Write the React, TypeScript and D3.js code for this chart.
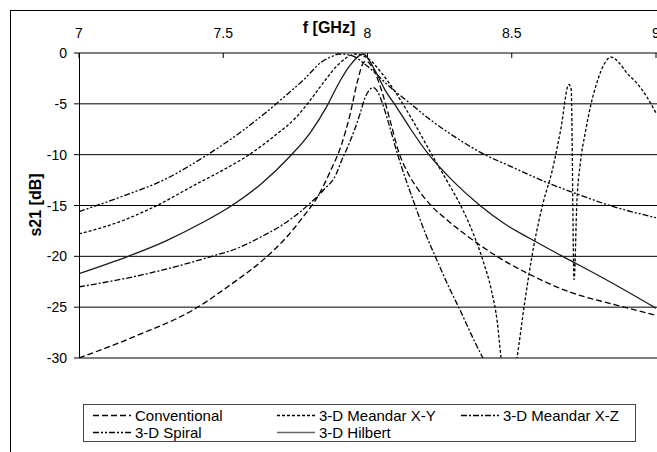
import React from 'react';
import * as d3 from 'd3';

// axis ticks
const xTicks = [7, 7.5, 8, 8.5, 9];
const yTicks = [0, -5, -10, -15, -20, -25, -30];

// series (frequency in GHz, s21 in dB)
const conventionalF = [7.0, 7.2, 7.4, 7.52, 7.64, 7.72, 7.78, 7.83, 7.87, 7.91, 7.94, 7.965, 7.985, 7.995, 8.02, 8.05, 8.078, 8.109, 8.14, 8.17, 8.22, 8.275, 8.38, 8.46, 8.55, 8.7, 8.85, 9.0];
const conventionalDb = [-30, -27.8, -25.2, -22.9, -20.3, -18.1, -16.0, -14.0, -11.7, -9.0, -6.0, -2.8, -1.0, -0.8, -1.6, -3.8, -6.6, -9.8, -11.8, -13.2, -15.0, -16.4, -18.7, -20.2, -21.6, -23.5, -24.7, -25.8];

const meanderXYF = [7.0, 7.15, 7.27, 7.4, 7.5, 7.59, 7.68, 7.75, 7.8, 7.85, 7.9, 7.96, 8.0, 8.05, 8.1, 8.16, 8.227, 8.28, 8.33, 8.37, 8.4, 8.43, 8.45, 8.463, 8.49, 8.518, 8.545, 8.575, 8.61, 8.64, 8.67, 8.698, 8.706, 8.716, 8.726, 8.737, 8.755, 8.775, 8.8, 8.82, 8.845, 8.87, 8.9, 8.935, 8.97, 9.0];
const meanderXYDb = [-17.8, -16.5, -15.0, -13.0, -11.5, -10.0, -8.1, -6.4, -4.7, -2.8, -1.1, -0.1, -0.5, -2.0, -4.0, -6.8, -10.2, -12.8, -15.4, -18.0, -20.4, -23.4, -26.5, -30, -34, -30, -24.5, -19.2, -14.6, -11.6, -7.5, -3.1, -3.6, -22.3, -14.5, -11.0, -7.8, -5.0, -2.5, -1.1, -0.4, -0.9, -2.0, -3.0, -4.4, -5.9];

const meanderXZF = [7.0, 7.19, 7.35, 7.46, 7.55, 7.63, 7.7, 7.75, 7.8, 7.85, 7.89, 7.91, 7.935, 7.957, 7.975, 7.99, 8.005, 8.02, 8.035, 8.05, 8.07, 8.11, 8.161, 8.2, 8.241, 8.28, 8.321, 8.36, 8.4, 8.44];
const meanderXZDb = [-23, -22, -20.9, -20, -19.2, -18.1, -17.0, -16.0, -14.8, -13.4, -12.0, -10.6, -9.0, -7.4, -5.9, -4.5, -3.7, -3.4, -3.8, -4.8, -6.6, -10.5, -14.7, -17.7, -20.4, -22.9, -25.3, -27.7, -30, -32];

const spiralF = [7.0, 7.15, 7.3, 7.44, 7.55, 7.65, 7.72, 7.78, 7.84, 7.88, 7.9, 7.94, 8.0, 8.08, 8.15, 8.21, 8.3, 8.4, 8.5, 8.61, 8.72, 8.84, 9.0];
const spiralDb = [-15.6, -14.1, -12.4, -10.1, -8.0, -5.8, -4.1, -2.6, -0.9, -0.3, -0.1, -0.2, -1.3, -3.4, -5.0, -6.4, -8.2, -9.9, -11.2, -12.6, -13.8, -15.0, -16.2];

const hilbertF = [7.0, 7.17, 7.3, 7.42, 7.53, 7.63, 7.73, 7.8, 7.86, 7.9, 7.94, 7.985, 8.02, 8.06, 8.1, 8.15, 8.21, 8.3, 8.39, 8.47, 8.56, 8.67, 8.84, 9.0];
const hilbertDb = [-21.7, -20.0, -18.5, -16.8, -15.0, -12.9, -10.2, -7.9, -5.2, -3.0, -1.2, -0.1, -1.4, -3.6, -5.3, -7.5, -9.9, -12.7, -15.0, -16.7, -18.2, -19.9, -22.5, -25.1];

const series = [
  { name: 'Conventional', f: conventionalF, db: conventionalDb, dash: '6,3', color: '#000', legendColor: '#000' },
  { name: '3-D Meandar X-Y', f: meanderXYF, db: meanderXYDb, dash: '3,2', color: '#000', legendColor: '#000' },
  { name: '3-D Meandar X-Z', f: meanderXZF, db: meanderXZDb, dash: '6,2,2,2', color: '#000', legendColor: '#000' },
  { name: '3-D Spiral', f: spiralF, db: spiralDb, dash: '6,2,2,2,2,2', color: '#000', legendColor: '#000' },
  { name: '3-D Hilbert', f: hilbertF, db: hilbertDb, dash: null, color: '#1a1a1a', legendColor: '#666' },
];

const font = 'Arial, "Liberation Sans", sans-serif';

export default function App() {
  const x = d3.scaleLinear().domain([7, 9]).range([79, 656]);
  const y = d3.scaleLinear().domain([-30, 0]).range([358, 53]);
  const line = d3
    .line<[number, number]>()
    .x((d) => x(d[0]))
    .y((d) => y(d[1]))
    .curve(d3.curveMonotoneX);

  // legend layout
  const legendCols = [93, 277, 461];
  const legendRows = [415.5, 432.5];

  return (
    <svg
      width={657}
      height={452}
      style={{ position: 'absolute', left: 0, top: 0, background: '#fff' }}
      fontFamily={font}
    >
      <defs>
        <clipPath id="plot">
          <rect x={79} y={48} width={590} height={310} />
        </clipPath>
      </defs>
      <rect x={0} y={0} width={657} height={452} fill="#fff" />
      {/* chart border */}
      <rect x={10.5} y={10.5} width={700} height={500} fill="none" stroke="#000" />

      {/* gridlines */}
      {yTicks.map((t) => (
        <g key={t}>
          <line x1={79} x2={660} y1={y(t)} y2={y(t)} stroke="#000" strokeWidth={1} />
          <line x1={74} x2={79} y1={y(t)} y2={y(t)} stroke="#000" />
          <text x={67} y={y(t) + 5} fontSize={14} textAnchor="end">
            {t}
          </text>
        </g>
      ))}
      {/* y axis line */}
      <line x1={79.5} x2={79.5} y1={53} y2={358} stroke="#000" />

      {/* x axis on top */}
      {xTicks.map((t) => (
        <g key={t}>
          <line x1={x(t)} x2={x(t)} y1={53} y2={58} stroke="#000" />
          <text x={x(t)} y={38} fontSize={14} textAnchor="middle">
            {t}
          </text>
        </g>
      ))}
      <text x={329} y={33} fontSize={16} fontWeight="bold" textAnchor="middle">
        f [GHz]
      </text>
      <text
        transform="translate(41,205) rotate(-90)"
        fontSize={16}
        fontWeight="bold"
        textAnchor="middle"
      >
        s21 [dB]
      </text>

      {/* curves */}
      <g clipPath="url(#plot)">
        {series.map((s) => (
          <path
            key={s.name}
            d={line(s.f.map((f, i) => [f, s.db[i]] as [number, number])) || ''}
            fill="none"
            stroke={s.color}
            strokeWidth={1.3}
            strokeDasharray={s.dash || undefined}
          />
        ))}
      </g>

      {/* legend */}
      <rect x={83.5} y={404.5} width={552} height={37} fill="#fff" stroke="#444" />
      {series.map((s, i) => {
        const cx = legendCols[i % 3];
        const cy = legendRows[Math.floor(i / 3)];
        return (
          <g key={s.name}>
            <line
              x1={cx}
              x2={cx + 38}
              y1={cy}
              y2={cy}
              stroke={s.legendColor}
              strokeWidth={1.3}
              strokeDasharray={s.dash || undefined}
            />
            <text x={cx + 42} y={cy + 5} fontSize={15}>
              {s.name}
            </text>
          </g>
        );
      })}
    </svg>
  );
}
